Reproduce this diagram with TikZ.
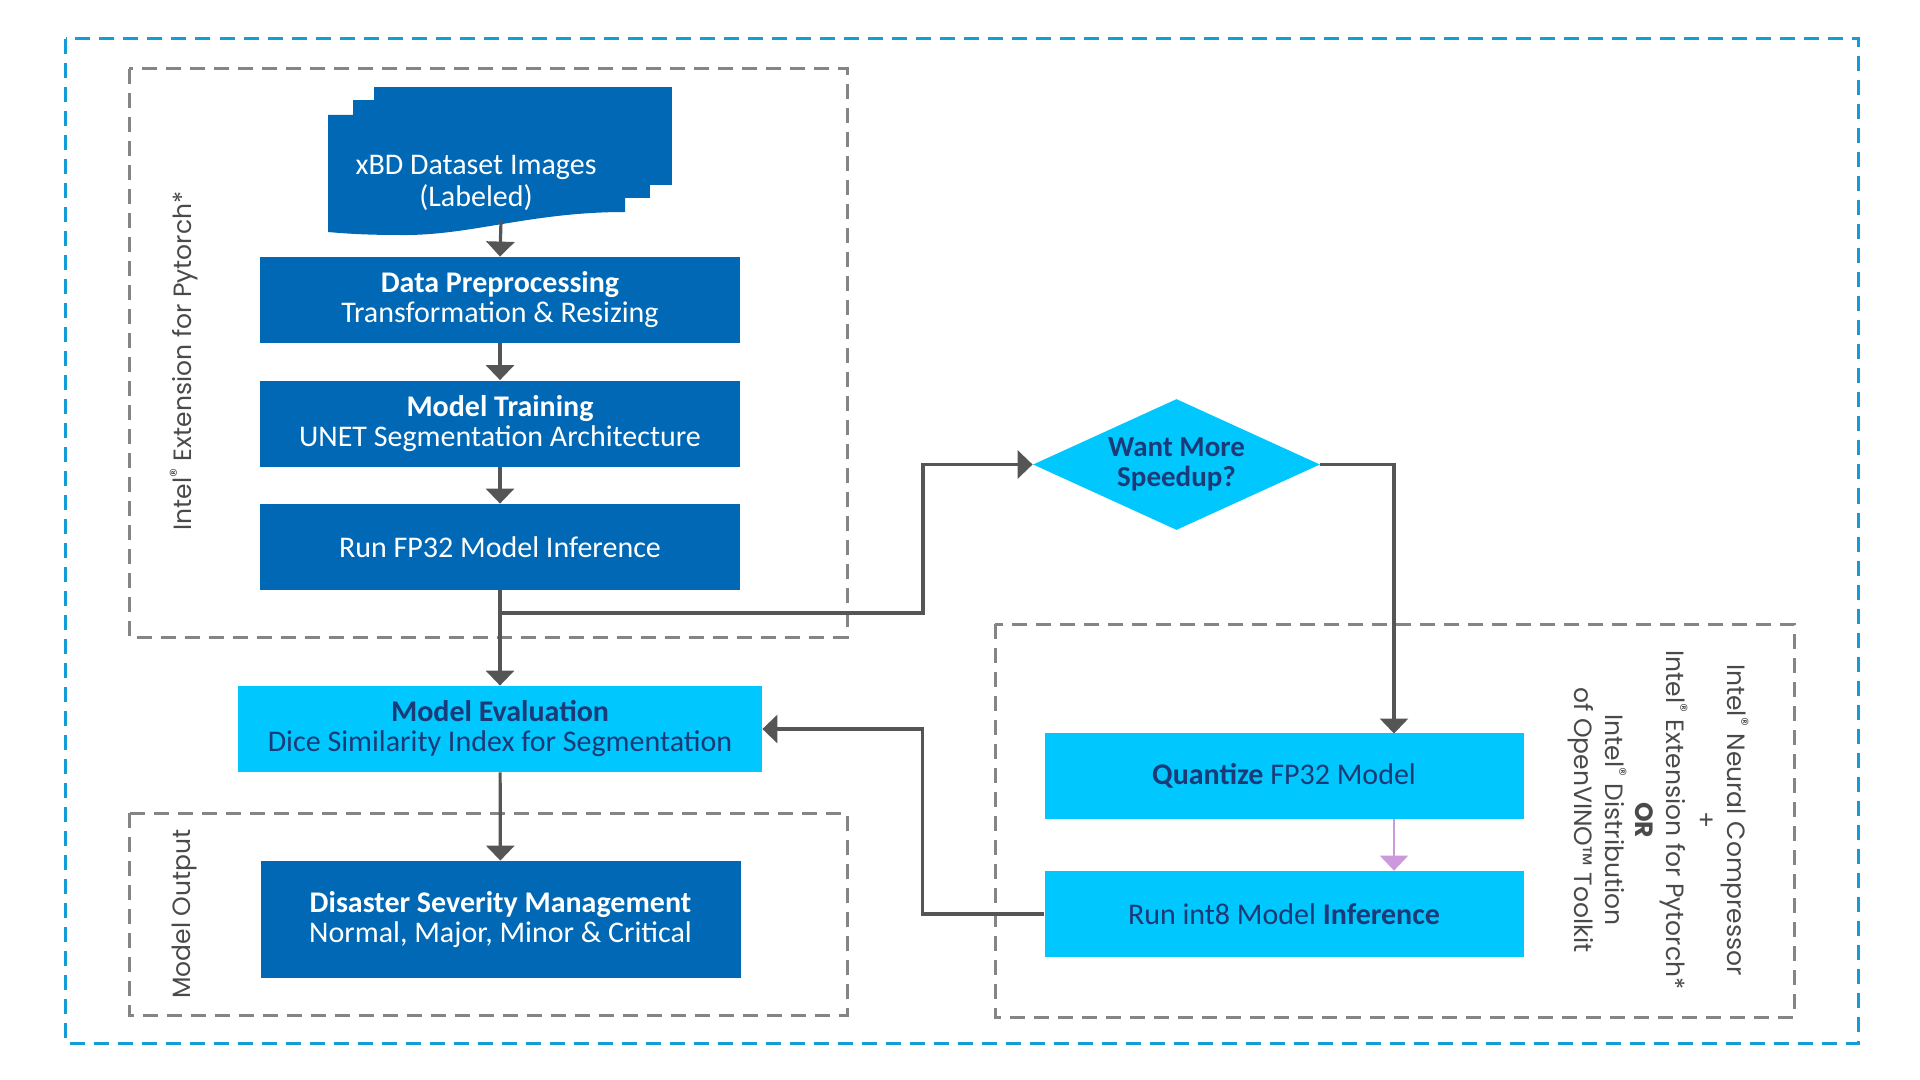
\documentclass[tikz,border=0pt]{standalone}
\usepackage{fontspec}
\setmainfont{Carlito}
\newfontfamily\labelfont{Poppins}
\usetikzlibrary{arrows.meta,shapes.geometric}

\definecolor{intelblue}{HTML}{0068B5}
\definecolor{energyblue}{HTML}{00C7FD}
\definecolor{navy}{HTML}{1B3A78}
\definecolor{framegray}{HTML}{858585}
\definecolor{linegray}{HTML}{555555}
\definecolor{outerblue}{HTML}{149DD5}
\definecolor{lilac}{HTML}{CC99DD}
\definecolor{labelgray}{HTML}{4A4A4A}

\tikzset{
  darkbox/.style={fill=intelblue, text=white, minimum width=240pt, minimum height=43pt,
    align=center, inner sep=0pt, font=\fontsize{15}{15}\selectfont},
  lightbox/.style={darkbox, fill=energyblue, text=navy},
  flowarrow/.style={draw=linegray, line width=1.6pt, -{Triangle[width=14pt,length=7.5pt]}},
  groupframe/.style={draw=framegray, line width=1.5pt, dash pattern=on 7.5pt off 4.5pt},
  outerframe/.style={draw=outerblue, line width=1.5pt, dash pattern=on 7.5pt off 4.5pt},
  sidelabel/.style={font=\labelfont\fontsize{12.5}{15.3}\selectfont, text=labelgray, align=center}
}

\begin{document}
\begin{tikzpicture}[x=0.5pt,y=-0.5pt]
\useasboundingbox (0,0) rectangle (1920,1080);

% frames
\draw[outerframe] (65.5,39) rectangle (1858,1043);
\draw[groupframe] (129,69) rectangle (847,637);
\draw[groupframe] (129,813) rectangle (847,1015);
\draw[groupframe] (995,624) rectangle (1794,1017);

% stacked dataset pages
\fill[intelblue] (374,87) rectangle (672,185);
\fill[intelblue] (353,100) rectangle (650,198);
\fill[intelblue] (328,115) -- (625,115) -- (625,212)
  .. controls (530,212) and (470,236) .. (400,235)
  .. controls (360,235) and (340,233) .. (328,232) -- cycle;
\node[text=white, align=center, font=\fontsize{15}{16}\selectfont] (data) at (476,182.5)
  {xBD Dataset Images\\(Labeled)};
\coordinate (docbot) at (501,221);

% left column
\node[darkbox] (prep) at (500,300) {\textbf{Data Preprocessing}\\Transformation \& Resizing};
\node[darkbox] (train) at (500,423.5) {\textbf{Model Training}\\UNET Segmentation Architecture};
\node[darkbox] (fp32) at (500,547) {Run FP32 Model Inference};
\node[lightbox, minimum width=262pt] (eval) at (500,729)
  {\textbf{Model Evaluation}\\Dice Similarity Index for Segmentation};
\node[darkbox, minimum height=58.5pt] (severity) at (500.5,919.5)
  {\textbf{Disaster Severity Management}\\Normal, Major, Minor \& Critical};

% right side
\node[diamond, aspect=2.19, fill=energyblue, text=navy, minimum width=143.5pt, minimum height=65.5pt,
  inner sep=0pt, align=center, font=\fontsize{14.5}{15}\selectfont\bfseries] (speedup) at (1176.5,464.5)
  {Want More\\Speedup?};
\node[lightbox, minimum width=239.5pt] (quant) at (1284,776) {\textbf{Quantize} FP32 Model};
\node[lightbox, minimum width=239.5pt] (int8) at (1284,914) {Run int8 Model \textbf{Inference}};
\coordinate (qin) at (1394,733.5);

% labels
\node[sidelabel, rotate=90] (ipexlabel) at (184,361) {Intel\textsuperscript{®} Extension for Pytorch*};
\node[sidelabel, rotate=90] (outlabel) at (184,914) {Model Output};
\node[sidelabel, rotate=-90] (toollabel) at (1658.5,820)
  {Intel\textsuperscript{®} Neural Compressor\\+\\Intel\textsuperscript{®} Extension for Pytorch*\\
   \textbf{OR}\\Intel\textsuperscript{®} Distribution\\of OpenVINO™ Toolkit};

% connectors
\draw[flowarrow] (docbot) -- (prep.north);
\draw[flowarrow] (prep) -- (train);
\draw[flowarrow] (train) -- (fp32);
\draw[flowarrow] (fp32) -- (eval);
\draw[flowarrow] (eval) -- (severity);
\coordinate (split) at (500,613);
\draw[flowarrow] (split) -- ++(423,0) |- (speedup.west);
\draw[flowarrow] (speedup.east) -| (qin);
\draw[flowarrow, draw=lilac, line width=1.2pt] (qin |- quant.south) -- (qin |- int8.north);
\draw[flowarrow] (int8.west) -- ++(-121.5,0) |- (eval.east);
\end{tikzpicture}
\end{document}
